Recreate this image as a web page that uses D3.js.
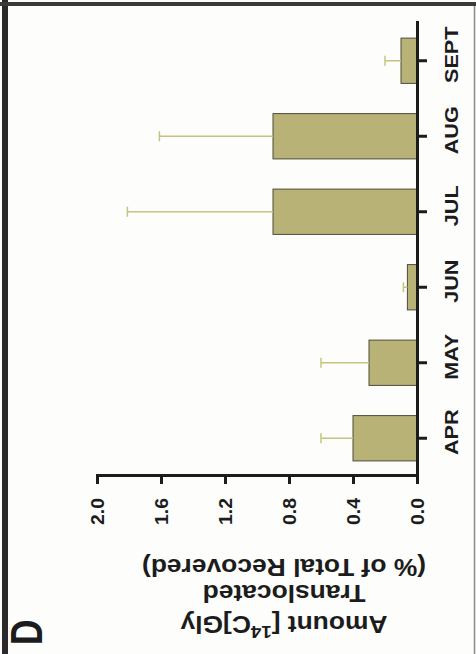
<!DOCTYPE html>
<html>
<head>
<meta charset="utf-8">
<script src="https://cdn.jsdelivr.net/npm/d3@7"></script>
<style>
  body { margin: 0; background: #fff; }
  svg { display: block; font-family: "Liberation Sans", Arial, sans-serif; }
</style>
</head>
<body>
<div id="chart"></div>
<script>
// monthly means and upper error (one side only, as printed)
var months = ["APR", "MAY", "JUN", "JUL", "AUG", "SEPT"];
var means  = [0.40, 0.30, 0.06, 0.90, 0.90, 0.10];
var errors = [0.20, 0.30, 0.025, 0.91, 0.71, 0.10];
var yTicks = [0, 0.4, 0.8, 1.2, 1.6, 2.0];

var W = 476, H = 654;

var svg = d3.select("#chart").append("svg")
    .attr("width", W)
    .attr("height", H);

svg.append("rect")
  .attr("width", W).attr("height", H)
  .attr("fill", "#fdfdfc");

// the panel is printed sideways, so draw it upright in a 654 x 476 frame
// and turn the whole thing a quarter turn counter-clockwise
var g = svg.append("g")
    .attr("transform", "translate(0," + H + ") rotate(-90)");

var x = d3.scaleBand()
    .domain(months)
    .range([178, 631])
    .paddingInner(0.4)
    .paddingOuter(0.2);

var y = d3.scaleLinear()
    .domain([0, 2])
    .range([417, 97]);

var data = months.map(function(m, i) {
  return { month: m, mean: means[i], err: errors[i] };
});

// bars
g.selectAll(".bar")
  .data(data)
  .enter().append("rect")
  .attr("class", "bar")
  .attr("x", function(d) { return x(d.month); })
  .attr("width", x.bandwidth())
  .attr("y", function(d) { return y(d.mean); })
  .attr("height", function(d) { return y(0) - y(d.mean); })
  .attr("fill", "#b9b277")
  .attr("stroke", "#4d4b3c")
  .attr("stroke-width", 1);

// error bars, upper side only
var eb = g.selectAll(".err")
  .data(data)
  .enter().append("g")
  .attr("class", "err")
  .attr("stroke", "#c3c47f")
  .attr("stroke-width", 1.5);

eb.append("line")
  .attr("x1", function(d) { return x(d.month) + x.bandwidth() / 2; })
  .attr("x2", function(d) { return x(d.month) + x.bandwidth() / 2; })
  .attr("y1", function(d) { return y(d.mean); })
  .attr("y2", function(d) { return y(d.mean + d.err); });

eb.append("line")
  .attr("x1", function(d) { return x(d.month) + x.bandwidth() / 2 - 5; })
  .attr("x2", function(d) { return x(d.month) + x.bandwidth() / 2 + 5; })
  .attr("y1", function(d) { return y(d.mean + d.err); })
  .attr("y2", function(d) { return y(d.mean + d.err); });

// value axis
var yAxis = g.append("g")
  .attr("transform", "translate(178,0)")
  .call(d3.axisLeft(y).tickValues(yTicks).tickSize(8).tickSizeOuter(0)
    .tickFormat(d3.format(".1f")));

// month axis
var xAxis = g.append("g")
  .attr("transform", "translate(0,417)")
  .call(d3.axisBottom(x).tickSize(10).tickSizeOuter(0));

[yAxis, xAxis].forEach(function(a) {
  a.attr("font-size", null).attr("font-family", null);
  a.select(".domain")
    .attr("stroke", "#1c1c1c")
    .attr("stroke-width", 3)
    .attr("stroke-linecap", "square");
  a.selectAll(".tick line")
    .attr("stroke", "#1c1c1c")
    .attr("stroke-width", 3);
  a.selectAll(".tick text")
    .attr("fill", "#1c1c1c")
    .attr("font-weight", "bold")
    .attr("font-size", 18);
});

yAxis.selectAll(".tick text")
  .attr("x", 0)
  .attr("dy", "0.36em")
  .attr("transform", "translate(-22,0) scale(1.08,1)");

xAxis.selectAll(".tick text")
  .attr("y", 0)
  .attr("dy", 0)
  .attr("transform", "translate(6,41) scale(1.2,1)");

// y title, three lines
var titleLines = [38, 69, 95];
var t1 = g.append("text")
  .attr("transform", "translate(" + titleLines[0] + ",284) rotate(-90) scale(1.1,1)")
  .attr("text-anchor", "middle")
  .attr("font-size", 24)
  .attr("font-weight", "bold")
  .attr("fill", "#1c1c1c");
t1.append("tspan").text("Amount [");
t1.append("tspan").attr("font-size", 17).attr("dy", -10).text("14");
t1.append("tspan").attr("dy", 10).text("C]Gly");

g.append("text")
  .attr("transform", "translate(" + titleLines[1] + ",284) rotate(-90) scale(1.1,1)")
  .attr("text-anchor", "middle")
  .attr("font-size", 24)
  .attr("font-weight", "bold")
  .attr("fill", "#1c1c1c")
  .text("Translocated");

g.append("text")
  .attr("transform", "translate(" + titleLines[2] + ",284) rotate(-90) scale(1.1,1)")
  .attr("text-anchor", "middle")
  .attr("font-size", 24)
  .attr("font-weight", "bold")
  .attr("fill", "#1c1c1c")
  .text("(% of Total Recovered)");

// panel letter
g.append("text")
  .attr("transform", "translate(9,42) scale(0.8,1)")
  .attr("font-size", 44)
  .attr("font-weight", "bold")
  .attr("fill", "#1c1c1c")
  .text("D");

// scanned frame edges
svg.append("rect").attr("x", 2).attr("y", 0).attr("width", 6).attr("height", H).attr("fill", "#2b2b2b");
svg.append("rect").attr("x", 0).attr("y", 2).attr("width", W).attr("height", 4).attr("fill", "#3a3a3a");
svg.append("line")
  .attr("x1", 474.5).attr("x2", 474.5).attr("y1", 6).attr("y2", H)
  .attr("stroke", "#8a8a8a").attr("stroke-width", 1.5);
</script>
</body>
</html>
